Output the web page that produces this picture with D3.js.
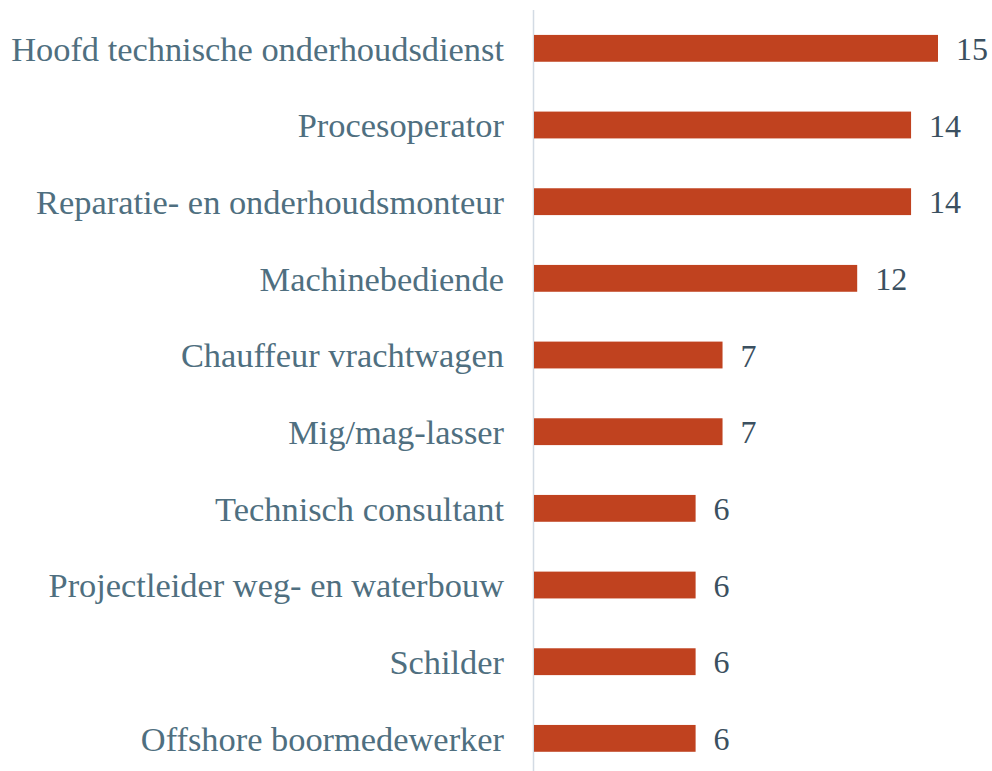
<!DOCTYPE html>
<html>
<head>
<meta charset="utf-8">
<script src="https://cdn.jsdelivr.net/npm/d3@7"></script>
<style>
  body { margin: 0; background: #fff; }
</style>
</head>
<body>
<div id="chart"></div>
<script>
var jobs = [
  "Hoofd technische onderhoudsdienst",
  "Procesoperator",
  "Reparatie- en onderhoudsmonteur",
  "Machinebediende",
  "Chauffeur vrachtwagen",
  "Mig/mag-lasser",
  "Technisch consultant",
  "Projectleider weg- en waterbouw",
  "Schilder",
  "Offshore boormedewerker"
];
var counts = [15, 14, 14, 12, 7, 7, 6, 6, 6, 6];

var svgWidth = 992;
var svgHeight = 771;

var margin = { top: 10, left: 534 };

var svg = d3.select("#chart")
  .append("svg")
  .attr("width", svgWidth)
  .attr("height", svgHeight);

var data = jobs.map(function(j, i) { return { job: j, n: counts[i] }; });

// 15 -> 404px wide
var xScale = d3.scaleLinear()
  .domain([0, 15])
  .range([margin.left, 938]);

var yScale = d3.scaleBand()
  .domain(jobs)
  .range([margin.top, margin.top + 766.7])
  .paddingInner(0.65)
  .paddingOuter(0.325);

// vertical axis line
svg.append("line")
  .attr("x1", 533.5)
  .attr("x2", 533.5)
  .attr("y1", margin.top)
  .attr("y2", svgHeight)
  .attr("stroke", "#d3dbe4")
  .attr("stroke-width", 1.5);

svg.selectAll("rect.bar")
  .data(data)
  .enter()
  .append("rect")
  .attr("class", "bar")
  .attr("x", xScale(0))
  .attr("y", d => yScale(d.job))
  .attr("width", d => xScale(d.n) - xScale(0))
  .attr("height", yScale.bandwidth())
  .attr("fill", "#c0421f");

// category labels
svg.selectAll("text.cat")
  .data(data)
  .enter()
  .append("text")
  .attr("class", "cat")
  .attr("x", 504)
  .attr("y", d => yScale(d.job) + yScale.bandwidth() / 2)
  .attr("dy", "0.36em")
  .attr("text-anchor", "end")
  .attr("font-family", "Liberation Serif")
  .attr("font-size", 34.4)
  .attr("fill", "#4f6f80")
  .text(d => d.job);

// value labels
svg.selectAll("text.val")
  .data(data)
  .enter()
  .append("text")
  .attr("class", "val")
  .attr("x", d => xScale(d.n) + 18)
  .attr("y", d => yScale(d.job) + yScale.bandwidth() / 2)
  .attr("dy", "0.36em")
  .attr("font-family", "Liberation Serif")
  .attr("font-size", 32)
  .attr("fill", "#3b5060")
  .text(d => d.n);
</script>
</body>
</html>
